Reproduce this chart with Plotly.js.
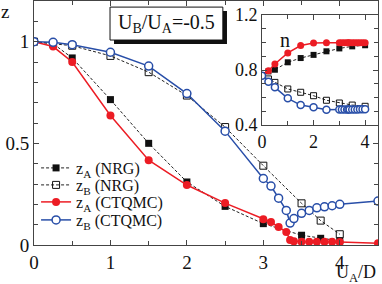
<!DOCTYPE html>
<html>
<head>
<meta charset="utf-8">
<script src="https://cdn.plot.ly/plotly-3.0.1.min.js"></script>
<style>html,body{margin:0;padding:0;background:#fff;}#plot{width:382px;height:284px;}</style>
</head>
<body>
<div id="plot"></div>
<script>
// ---- main panel data: quasiparticle weight z vs U_A/D ----
var xNRG = [0, 0.25, 0.5, 1, 1.5, 2, 2.5, 3, 3.5, 3.75, 4];
var zA_NRG = [1, 0.99, 0.92, 0.715, 0.50, 0.31, 0.19, 0.105, 0.048, 0.033, 0.02];
var zB_NRG = [1, 0.99, 0.98, 0.93, 0.85, 0.735, 0.58, 0.39, 0.205, 0.12, 0.053];

var xQMC = [0, 0.25, 0.5, 1, 1.5, 2, 2.5, 3, 3.1, 3.2, 3.3, 3.35, 3.4, 3.5, 3.6, 3.7, 3.8, 3.9, 4, 4.5];
var zA_QMC = [1, 0.976, 0.90, 0.637, 0.417, 0.295, 0.206, 0.127, 0.113, 0.088, 0.064, 0.025, 0.018, 0.016, 0.016, 0.016, 0.016, 0.016, 0.015, 0.008];
var zB_QMC = [1, 0.997, 0.985, 0.948, 0.88, 0.745, 0.56, 0.327, 0.29, 0.23, 0.17, 0.108, 0.13, 0.156, 0.17, 0.183, 0.188, 0.193, 0.2, 0.216];

// ---- inset data: occupation n vs U_A/D ----
var xInNRG = [0, 0.25, 0.5, 1, 1.5, 2, 2.5, 3, 3.5, 4];
var nA_NRG = [0.76, 0.79, 0.802, 0.856, 0.887, 0.91, 0.936, 0.957, 0.972, 0.98];
var nB_NRG = [0.76, 0.735, 0.71, 0.662, 0.638, 0.613, 0.58, 0.56, 0.545, 0.536];

var xInQMC = [0, 0.25, 0.5, 1, 1.5, 2, 2.5, 3, 3.1, 3.2, 3.3, 3.35, 3.4, 3.5, 3.6, 3.7, 3.8, 3.9, 4];
var nA_QMC = [0.76, 0.795, 0.844, 0.924, 0.978, 0.996, 0.998, 0.998, 0.998, 0.998, 0.998, 0.998, 0.998, 0.998, 0.998, 0.998, 0.998, 0.998, 0.998];
var nB_QMC = [0.759, 0.715, 0.674, 0.594, 0.545, 0.529, 0.511, 0.512, 0.512, 0.512, 0.512, 0.512, 0.512, 0.513, 0.513, 0.513, 0.514, 0.514, 0.514];

// ---- tick labels ----
var mainXTicks = [0, 1, 2, 3, 4];
var mainXText = ["0", "1", "2", "3", "4"];
var mainYTicks = [0, 0.5, 1];
var mainYText = ["0", "0.5", "1"];
var inXTicks = [0, 2, 4];
var inXText = ["0", "2", "4"];
var inYTicks = [0.4, 0.8, 1.2];
var inYText = ["0.4", "0.8", "1.2"];

var RED = "rgb(236,28,36)";
var BLUE = "rgb(40,78,168)";
var FONT = "Liberation Serif, Times New Roman, serif";

var traces = [
  {x: xNRG, y: zA_NRG, name: "z<sub>A</sub> (NRG)", legend: "legend", mode: "lines+markers",
   line: {color: "#222", width: 1, dash: "3px,2px"},
   marker: {symbol: "square", size: 7, color: "#111"}},
  {x: xNRG, y: zB_NRG, name: "z<sub>B</sub> (NRG)", legend: "legend2", mode: "lines+markers",
   line: {color: "#222", width: 1, dash: "3px,2px"},
   marker: {symbol: "square-open", size: 7, color: "#111", line: {width: 1}}},
  {x: xQMC, y: zA_QMC, name: "z<sub>A</sub> (CTQMC)", legend: "legend3", mode: "lines+markers",
   line: {color: RED, width: 1.5},
   marker: {symbol: "circle", size: 8, color: RED}},
  {x: xQMC, y: zB_QMC, name: "z<sub>B</sub> (CTQMC)", legend: "legend4", mode: "lines+markers",
   line: {color: BLUE, width: 1.5},
   marker: {symbol: "circle", size: 8, color: "#fff", line: {color: BLUE, width: 1.5}}},
  // inset
  {x: xInNRG, y: nA_NRG, xaxis: "x2", yaxis: "y2", showlegend: false, mode: "lines+markers",
   line: {color: "#222", width: 1, dash: "3px,2px"},
   marker: {symbol: "square", size: 6, color: "#111"}},
  {x: xInNRG, y: nB_NRG, xaxis: "x2", yaxis: "y2", showlegend: false, mode: "lines+markers",
   line: {color: "#222", width: 1, dash: "3px,2px"},
   marker: {symbol: "square-open", size: 6, color: "#111", line: {width: 1}}},
  {x: xInQMC, y: nA_QMC, xaxis: "x2", yaxis: "y2", showlegend: false, mode: "lines+markers",
   line: {color: RED, width: 1.5},
   marker: {symbol: "circle", size: 7, color: RED}},
  {x: xInQMC, y: nB_QMC, xaxis: "x2", yaxis: "y2", showlegend: false, mode: "lines+markers",
   line: {color: BLUE, width: 1.5},
   marker: {symbol: "circle", size: 7, color: "#fff", line: {color: BLUE, width: 1.5}}}
];

function ax(extra, minorDtick) {
  var o = {
    showgrid: false, zeroline: false, showline: true, linecolor: "#444", linewidth: 1,
    mirror: "allticks", ticks: "inside", ticklen: 5, tickcolor: "#444", tickwidth: 1,
    tickmode: "array", tickfont: {family: FONT, size: 19, color: "#111"},
    minor: {dtick: minorDtick, tick0: 0, ticks: "inside", ticklen: 4, tickcolor: "#444", tickwidth: 1, showgrid: false}
  };
  for (var k in extra) o[k] = extra[k];
  return o;
}

function leg(py) {
  return {x: 0.006, y: (245 - py) / 244, xanchor: "left", yanchor: "middle", bgcolor: "rgba(0,0,0,0)",
          borderwidth: 0, font: {family: FONT, size: 16, color: "#111"}, itemwidth: 30};
}

var layout = {
  width: 382, height: 284,
  margin: {l: 34, r: 4, t: 1, b: 39},
  paper_bgcolor: "#fff", plot_bgcolor: "#fff",
  font: {family: FONT, color: "#111"},
  showlegend: true,
  legend: leg(168), legend2: leg(185), legend3: leg(202), legend4: leg(220),
  xaxis: ax({domain: [0, 1], range: [0, 4.5], tickvals: mainXTicks, ticktext: mainXText}, 0.5),
  yaxis: ax({domain: [0, 1], range: [0, 1.2], tickvals: mainYTicks, ticktext: mainYText, ticklabelstandoff: 0}, 0.1),
  xaxis2: ax({domain: [0.6628, 1], range: [0, 4.5], anchor: "y2", tickvals: inXTicks, ticktext: inXText,
              tickfont: {family: FONT, size: 18, color: "#111"}}, 1),
  yaxis2: ax({domain: [0.4918, 0.9426], range: [0.4, 1.2], anchor: "x2", tickvals: inYTicks, ticktext: inYText,
              tickfont: {family: FONT, size: 18, color: "#111"}, ticklabelstandoff: 0}, 0.1),
  shapes: [
    {type: "rect", xref: "paper", yref: "paper", x0: 0.2326, x1: 0.561, y0: 0.824, y1: 0.959,
     fillcolor: "#111", line: {width: 0}, layer: "above"},
    {type: "rect", xref: "paper", yref: "paper", x0: 0.221, x1: 0.549, y0: 0.840, y1: 0.975,
     fillcolor: "#fff", line: {color: "#111", width: 1}, layer: "above"}
  ],
  annotations: [
    {text: "U<sub>B</sub>/U<sub>A</sub>=-0.5", xref: "paper", yref: "paper", x: 0.385, y: 0.9075,
     xanchor: "center", yanchor: "middle", showarrow: false, font: {family: FONT, size: 20, color: "#111"}},
    {text: "z", xref: "paper", yref: "paper", x: -0.084, y: 0.955, xanchor: "center", yanchor: "middle",
     showarrow: false, font: {family: FONT, size: 19, color: "#111"}},
    {text: "U<sub>A</sub>/D", xref: "paper", yref: "paper", x: 1.0, y: -0.118, xanchor: "right", yanchor: "middle",
     showarrow: false, font: {family: FONT, size: 18, color: "#111"}},
    {text: "n", xref: "paper", yref: "paper", x: 0.73, y: 0.84, xanchor: "center", yanchor: "middle",
     showarrow: false, font: {family: FONT, size: 20, color: "#111"}}
  ]
};

Plotly.newPlot("plot", traces, layout, {displayModeBar: false, staticPlot: true});
</script>
</body>
</html>
